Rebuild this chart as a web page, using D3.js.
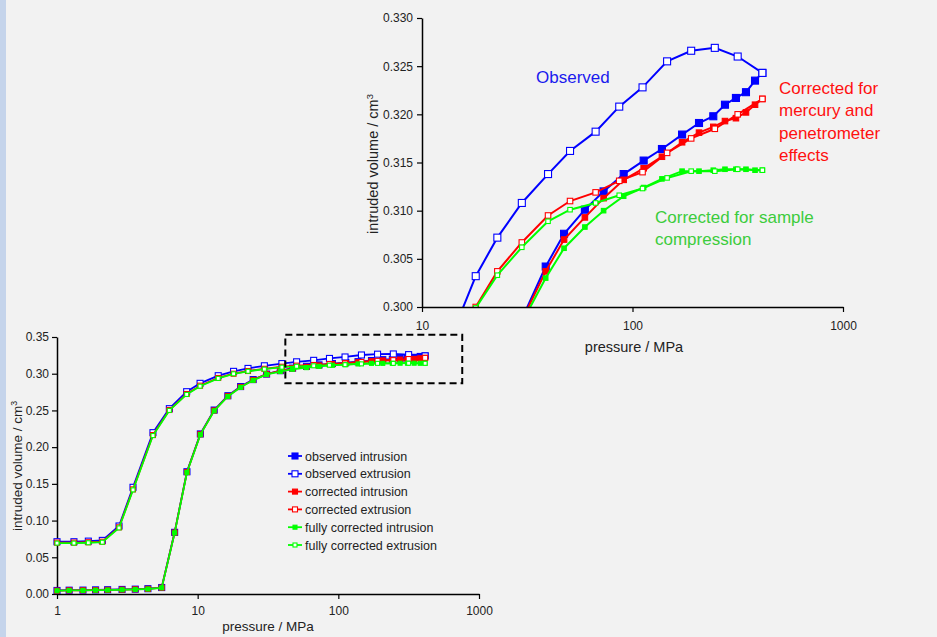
<!DOCTYPE html>
<html>
<head>
<meta charset="utf-8">
<script src="https://cdn.jsdelivr.net/npm/d3@7"></script>
<style>
  html, body { margin: 0; padding: 0; background: #f2f2f2; }
  svg { display: block; font-family: Arial, "Liberation Sans", sans-serif; }
</style>
</head>
<body>
<svg id="chart" width="937" height="637"></svg>
<script>
// pressures (MPa) of the intrusion and extrusion steps
const intrusionPressure = [1.0, 1.22, 1.53, 1.88, 2.29, 2.9, 3.6, 4.43, 5.55, 6.86, 8.39, 10.45, 13.1, 16.4, 20.2, 24.8,
  30.9, 38.7, 47.3, 59.4, 72.9, 90.8, 113, 138, 172, 207, 242, 275, 310, 346, 382, 414];
const extrusionPressure = [1.0, 1.32, 1.67, 2.1, 2.76, 3.47, 4.81, 6.29, 8.35, 10.4, 14.0, 18.0, 22.8, 29.8,
  39.7, 50.5, 66.8, 86.5, 111.6, 146, 190, 246, 316, 414];

// intruded volume (cm3)
const observedIntrusion = [0.0048, 0.0052, 0.0053, 0.0056, 0.0058, 0.0062, 0.0066, 0.0072, 0.0088, 0.0840, 0.1665,
  0.2180, 0.2505, 0.2700, 0.2825, 0.2920, 0.2995, 0.3042, 0.3076, 0.3101, 0.3120, 0.3138, 0.3152, 0.3164, 0.3179,
  0.3191, 0.3198, 0.3210, 0.3217, 0.3223, 0.3235, 0.3243];
const observedExtrusion = [0.0712, 0.0712, 0.0720, 0.0730, 0.0926, 0.1453, 0.2197, 0.2524, 0.2755, 0.2869, 0.2973,
  0.3032, 0.3072, 0.3108, 0.3138, 0.3162, 0.3182, 0.3208, 0.3228, 0.3255, 0.3266, 0.3269, 0.3260, 0.3243];
const correctedIntrusion = [0.0046, 0.0050, 0.0051, 0.0054, 0.0056, 0.0060, 0.0064, 0.0070, 0.0086, 0.0837, 0.1660,
  0.2175, 0.2500, 0.2695, 0.2820, 0.2915, 0.2993, 0.3037, 0.3070, 0.3093, 0.3113, 0.3132, 0.3144, 0.3156, 0.3171,
  0.3181, 0.3187, 0.3193, 0.3196, 0.3202, 0.3210, 0.3216];
const correctedExtrusion = [0.0700, 0.0700, 0.0705, 0.0712, 0.0908, 0.1425, 0.2165, 0.2506, 0.2724, 0.2837, 0.2942,
  0.3000, 0.3037, 0.3067, 0.3095, 0.3110, 0.3119, 0.3131, 0.3140, 0.3160, 0.3175, 0.3185, 0.3200, 0.3216];
const fullIntrusion = [0.0044, 0.0048, 0.0049, 0.0052, 0.0054, 0.0058, 0.0062, 0.0068, 0.0084, 0.0833, 0.1655,
  0.2170, 0.2495, 0.2690, 0.2815, 0.2910, 0.2990, 0.3030, 0.3061, 0.3083, 0.3100, 0.3115, 0.3124, 0.3133, 0.3141,
  0.3141, 0.3142, 0.3143, 0.3143, 0.3143, 0.3142, 0.3142];
const fullExtrusion = [0.0693, 0.0693, 0.0698, 0.0705, 0.0900, 0.1418, 0.2158, 0.2500, 0.2718, 0.2830, 0.2936,
  0.2999, 0.3033, 0.3062, 0.3089, 0.3101, 0.3108, 0.3116, 0.3123, 0.3134, 0.3141, 0.3141, 0.3143, 0.3142];

const seriesNames = ["observed intrusion", "observed extrusion", "corrected intrusion", "corrected extrusion",
  "fully corrected intrusion", "fully corrected extrusion"];

// tick labels
const xTicks = [1, 10, 100, 1000];
const insetXTicks = [10, 100, 1000];
const mainYTicks = [0, 0.05, 0.10, 0.15, 0.20, 0.25, 0.30, 0.35];
const insetYTicks = [0.300, 0.305, 0.310, 0.315, 0.320, 0.325, 0.330];

// region of the main chart shown in the inset (pressure, volume)
const zoomPressure = [42, 760];
const zoomVolume = [0.287, 0.353];

const colors = ["#0000ff", "#0000ff", "#ff0000", "#ff0000", "#00ff00", "#00ff00"];
const series = seriesNames.map((name, i) => ({
  name: name,
  color: colors[i],
  open: i % 2 === 1,
  level: Math.floor(i / 2),
  pressure: i % 2 === 0 ? intrusionPressure : extrusionPressure,
  values: [observedIntrusion, observedExtrusion, correctedIntrusion, correctedExtrusion, fullIntrusion, fullExtrusion][i]
}));

const svg = d3.select("#chart");
svg.append("rect").attr("width", 937).attr("height", 637).attr("fill", "#f2f2f2");
svg.append("rect").attr("width", 6).attr("height", 637).attr("fill", "#c5d4eb");

function drawSeries(g, x, y, sizes, lineWidth) {
  series.forEach(s => {
    let pts = s.pressure.map((p, i) => [p, s.values[i]]);
    g.append("path")
      .datum(pts)
      .attr("fill", "none")
      .attr("stroke", s.color)
      .attr("stroke-width", lineWidth)
      .attr("d", d3.line().x(d => x(d[0])).y(d => y(d[1])));
    let sz = sizes[s.level];
    g.selectAll(null)
      .data(pts)
      .enter().append("rect")
      .attr("x", d => x(d[0]) - sz / 2)
      .attr("y", d => y(d[1]) - sz / 2)
      .attr("width", sz)
      .attr("height", sz)
      .attr("fill", s.open ? "#ffffff" : s.color)
      .attr("stroke", s.color)
      .attr("stroke-width", 1.1);
  });
}

function styleAxis(sel, fontSize) {
  sel.attr("font-family", "Arial, 'Liberation Sans', sans-serif")
    .attr("font-size", fontSize)
    .attr("color", "#000");
  sel.select(".domain").attr("stroke-width", 1.5);
  sel.selectAll(".tick line").attr("stroke-width", 1.2);
  sel.selectAll(".tick text").attr("fill", "#222");
}

function yTitle(g, cx, cy, fontSize) {
  let t = g.append("text")
    .attr("transform", "translate(" + cx + "," + cy + ") rotate(-90)")
    .attr("text-anchor", "middle")
    .attr("font-size", fontSize)
    .attr("fill", "#222");
  t.append("tspan").text("intruded volume / cm");
  t.append("tspan").attr("dy", "-0.55em").attr("font-size", fontSize * 0.65).text("3");
}

// ---------- main chart ----------
let x = d3.scaleLog().domain([1, 1000]).range([57, 479]);
let y = d3.scaleLinear().domain([0, 0.35]).range([594, 337]);

let main = svg.append("g");

main.append("g")
  .attr("transform", "translate(0,594)")
  .call(d3.axisBottom(x).tickValues(xTicks).tickFormat(d3.format("d")).tickSize(5).tickSizeOuter(0).tickPadding(7))
  .call(styleAxis, 12);

main.append("g")
  .attr("transform", "translate(57,0)")
  .call(d3.axisLeft(y).tickValues(mainYTicks).tickFormat(d3.format(".2f")).tickSize(5).tickSizeOuter(0).tickPadding(3))
  .call(styleAxis, 12);

drawSeries(main, x, y, [6, 5, 4], 1.8);

main.append("text")
  .attr("x", 268).attr("y", 631)
  .attr("text-anchor", "middle")
  .attr("font-size", 13.5)
  .attr("fill", "#222")
  .text("pressure / MPa");
yTitle(main, 22, 466, 13.5);

// dashed box marking the zoomed region
main.append("rect")
  .attr("x", x(zoomPressure[0]))
  .attr("y", y(zoomVolume[1]))
  .attr("width", x(zoomPressure[1]) - x(zoomPressure[0]))
  .attr("height", y(zoomVolume[0]) - y(zoomVolume[1]))
  .attr("fill", "none")
  .attr("stroke", "#000")
  .attr("stroke-width", 2)
  .attr("stroke-dasharray", "7,4");

// legend
let legend = main.selectAll(".legend")
  .data(series)
  .enter().append("g")
  .attr("class", "legend")
  .attr("transform", (d, i) => "translate(288," + (456 + i * 17.8) + ")");

legend.append("line")
  .attr("x1", 0).attr("x2", 14)
  .attr("stroke", d => d.color)
  .attr("stroke-width", 1.8);

legend.append("rect")
  .attr("x", d => 7 - [6, 5, 4][d.level] / 2)
  .attr("y", d => -[6, 5, 4][d.level] / 2)
  .attr("width", d => [6, 5, 4][d.level])
  .attr("height", d => [6, 5, 4][d.level])
  .attr("fill", d => d.open ? "#ffffff" : d.color)
  .attr("stroke", d => d.color)
  .attr("stroke-width", 1.1);

legend.append("text")
  .attr("x", 17)
  .attr("dy", "0.36em")
  .attr("font-size", 12.5)
  .attr("fill", "#222")
  .text(d => d.name);

// ---------- inset chart ----------
let xi = d3.scaleLog().domain([10, 1000]).range([422, 843]);
let yi = d3.scaleLinear().domain([0.300, 0.330]).range([307, 18]);

let inset = svg.append("g");

svg.append("defs").append("clipPath")
  .attr("id", "inset-clip")
  .append("rect")
  .attr("x", 422).attr("y", 18)
  .attr("width", 843 - 422).attr("height", 307 - 18);

drawSeries(inset.append("g").attr("clip-path", "url(#inset-clip)"), xi, yi, [7, 5.5, 4.5], 2);

inset.append("g")
  .attr("transform", "translate(0,307)")
  .call(d3.axisBottom(xi).tickValues(insetXTicks).tickFormat(d3.format("d")).tickSize(5).tickSizeOuter(0).tickPadding(9))
  .call(styleAxis, 12);

inset.append("g")
  .attr("transform", "translate(422,0)")
  .call(d3.axisLeft(yi).tickValues(insetYTicks).tickFormat(d3.format(".3f")).tickSize(5).tickSizeOuter(0).tickPadding(4))
  .call(styleAxis, 12);

inset.append("text")
  .attr("x", 634).attr("y", 352)
  .attr("text-anchor", "middle")
  .attr("font-size", 14.5)
  .attr("fill", "#222")
  .text("pressure / MPa");
yTitle(inset, 378, 164, 14.5);

// annotations
function note(lines, x0, y0, color) {
  let t = inset.append("text")
    .attr("font-size", 17)
    .attr("fill", color);
  lines.forEach((l, i) => {
    t.append("tspan").attr("x", x0).attr("y", y0 + i * 22.3).text(l);
  });
}
note(["Observed"], 536, 83, "#1a1aee");
note(["Corrected for", "mercury and", "penetrometer", "effects"], 779, 94, "#ff1010");
note(["Corrected for sample", "compression"], 655, 223, "#3ccc3c");
</script>
</body>
